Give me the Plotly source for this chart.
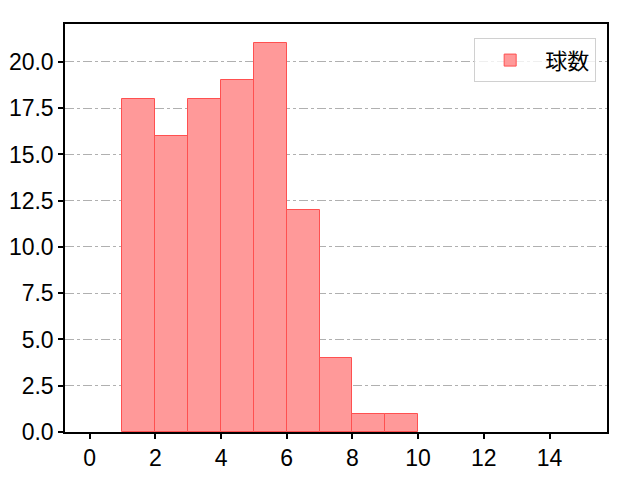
import plotly.graph_objects as go

# histogram of pitch counts
bin_left = [1, 2, 3, 4, 5, 6, 7, 8, 9]
counts = [18, 16, 18, 19, 21, 12, 4, 1, 1]
x_ticks = [0, 2, 4, 6, 8, 10, 12, 14]
y_ticks = [0, 2.5, 5, 7.5, 10, 12.5, 15, 17.5, 20]

fig = go.Figure()
fig.add_trace(go.Bar(
    x=bin_left, y=counts, offset=0, width=1,
    name='球数',
    marker=dict(color='#ff9999', line=dict(color='#ff5050', width=1)),
    showlegend=True,
))

axis_common = dict(
    showline=True, linecolor='black', linewidth=1.5, mirror=True,
    ticks='outside', ticklen=5, tickwidth=1.5, tickcolor='black',
    zeroline=False, automargin=False,
    tickfont=dict(family='Liberation Sans, Arial', size=23, color='black'),
)

# page body has an 8px margin, so the plot area is shifted by that
fig.update_layout(
    width=640, height=480,
    margin=dict(l=57, r=41, t=16, b=56),
    plot_bgcolor='white', paper_bgcolor='white',
    font=dict(family='Noto Sans CJK JP, DejaVu Sans', size=19, color='black'),
    xaxis=dict(range=[-0.75, 15.75], tickvals=x_ticks, showgrid=False, **axis_common),
    yaxis=dict(range=[0, 22.05], tickvals=y_ticks, tickformat='.1f',
               showgrid=True, gridcolor='#b0b0b0', griddash='dashdot', gridwidth=1,
               **axis_common),
    legend=dict(x=0.98, y=0.965, xanchor='right', yanchor='top',
                bordercolor='#d0d0d0', borderwidth=1, bgcolor='rgba(255,255,255,0.8)',
                font=dict(size=22), itemwidth=60),
    bargap=0,
)

fig.write_html("out.html")
